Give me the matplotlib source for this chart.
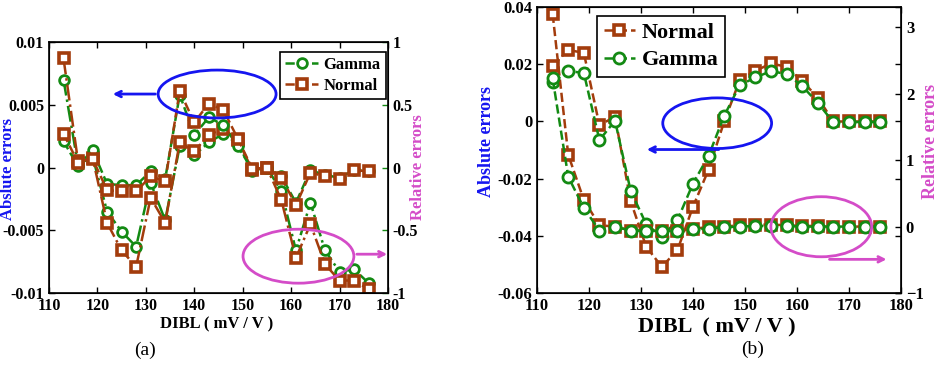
import matplotlib
matplotlib.use('Agg')
import matplotlib.pyplot as plt
from matplotlib.patches import Ellipse

plt.rcParams['font.family'] = ['Liberation Serif', 'DejaVu Serif']
plt.rcParams['font.weight'] = 'bold'

# DIBL values (mV/V)
dibl = [113, 116, 119, 122, 125, 128, 131, 134, 137, 140, 143,
        146, 149, 152, 155, 158, 161, 164, 167, 170, 173, 176]

# panel (a)
gamma_abs_a = [0.0021, 0.0001, 0.0014, -0.0013, -0.0014, -0.0014, -0.0003, -0.0009, 0.0058, 0.0026, 0.0040,
               0.0034, 0.0017, -0.0002, 0.0000, -0.0007, -0.0028, -0.0002, -0.0006, -0.0008, -0.0002, -0.0003]
gamma_rel_a = [0.70, 0.02, 0.09, -0.35, -0.51, -0.63, -0.12, -0.42, 0.17, 0.10, 0.20,
               0.27, 0.19, -0.03, 0.00, -0.19, -0.66, -0.28, -0.66, -0.83, -0.81, -0.92]
normal_abs_a = [0.0027, 0.0004, 0.0007, -0.0018, -0.0019, -0.0019, -0.0007, -0.0011, 0.0061, 0.0036, 0.0051,
                0.0046, 0.0023, -0.0001, 0.0000, -0.0008, -0.0030, -0.0004, -0.0007, -0.0009, -0.0002, -0.0003]
normal_rel_a = [0.87, 0.05, 0.08, -0.44, -0.66, -0.79, -0.24, -0.44, 0.20, 0.13, 0.26,
                0.31, 0.22, -0.02, 0.00, -0.26, -0.72, -0.45, -0.77, -0.90, -0.90, -0.97]

# panel (b)
normal_abs_b = [0.0195, 0.0250, 0.0240, -0.0013, 0.0017, -0.0278, -0.0438, -0.0508, -0.0450, -0.0298, -0.0168,
                0.0000, 0.0145, 0.0177, 0.0203, 0.0191, 0.0142, 0.0083, 0.0000, 0.0000, 0.0000, 0.0000]
normal_rel_b = [3.20, 1.08, 0.40, 0.02, 0.00, -0.06, -0.06, -0.06, -0.06, -0.03, -0.01,
                0.00, 0.02, 0.03, 0.03, 0.02, 0.01, 0.01, 0.00, 0.00, 0.00, 0.00]
gamma_abs_b = [0.0137, 0.0176, 0.0170, -0.0065, 0.0003, -0.0242, -0.0359, -0.0403, -0.0345, -0.0217, -0.0120,
               0.0020, 0.0127, 0.0154, 0.0176, 0.0166, 0.0124, 0.0065, -0.0003, -0.0003, -0.0001, -0.0002]
gamma_rel_b = [2.23, 0.75, 0.28, -0.06, 0.00, -0.06, -0.06, -0.07, -0.06, -0.04, -0.03,
               -0.01, 0.00, 0.01, 0.01, 0.01, 0.00, 0.00, 0.00, 0.00, 0.00, 0.00]

xticks = [110, 120, 130, 140, 150, 160, 170, 180]
yticks_a = [-0.01, -0.005, 0, 0.005, 0.01]
ylabels_a = ['-0.01', '-0.005', '0', '0.005', '0.01']
rticks_a = [-1, -0.5, 0, 0.5, 1]
rlabels_a = ['-1', '-0.5', '0', '0.5', '1']
yticks_b = [-0.06, -0.04, -0.02, 0, 0.02, 0.04]
ylabels_b = ['-0.06', '-0.04', '-0.02', '0', '0.02', '0.04']
rticks_b = [-1, 0, 1, 2, 3]

GREEN = '#138a13'
BROWN = '#a33c0c'
BLUE = '#1515f0'
MAGENTA = '#d44cc8'

fig = plt.figure(figsize=(9.4, 3.65), dpi=100)

gstyle = dict(color=GREEN, marker='o', mfc='white', mec=GREEN, mew=2, lw=1.8)
nstyle = dict(color=BROWN, marker='s', mfc='white', mec=BROWN, mew=2.6, lw=1.8)


def setup(ax, axr, fs):
    ax.set_xlim(110, 180)
    ax.set_xticks(xticks)
    ax.tick_params(direction='in', top=True, length=4, labelsize=fs, width=1)
    axr.tick_params(direction='in', length=4, labelsize=fs, width=1)
    for s in ax.spines.values():
        s.set_linewidth(1.2)


# ---------------- (a) ----------------
ax = fig.add_axes([0.0521, 0.197, 0.3606, 0.6877])
axr = ax.twinx()
ax.plot(dibl, gamma_abs_a, ls='--', ms=7, label='Gamma', **gstyle)
axr.plot(dibl, gamma_rel_a, ls='-.', ms=7, **gstyle)
ax.plot(dibl, normal_abs_a, ls='--', ms=6.5, label='Normal', **nstyle)
axr.plot(dibl, normal_rel_a, ls='-.', ms=6.5, **nstyle)
ax.set_zorder(axr.get_zorder() + 1)
ax.patch.set_visible(False)
ax.set_ylim(-0.01, 0.01)
ax.set_yticks(yticks_a)
ax.set_yticklabels(ylabels_a)
axr.set_ylim(-1, 1)
axr.set_yticks(rticks_a)
axr.set_yticklabels(rlabels_a)
setup(ax, axr, 11.5)
axr.tick_params(colors=GREEN, labelcolor='black')
ax.set_xlabel('DIBL ( mV / V )', fontsize=12, fontweight='bold')
ax.xaxis.set_label_coords(0.496, -0.094)
ax.set_ylabel('Abslute errors', fontsize=12, color=BLUE, fontweight='bold')
ax.yaxis.set_label_coords(-0.097, 0.494)
axr.set_ylabel('Relative errors', fontsize=12, color=MAGENTA, fontweight='bold')
axr.yaxis.set_label_coords(1.065, 0.5)
leg = ax.legend(loc='upper right', bbox_to_anchor=(0.993, 0.962), borderaxespad=0,
                fancybox=False, edgecolor='black', fontsize=12, handlelength=2.0,
                handletextpad=0.3, borderpad=0.3, labelspacing=0.3, framealpha=1)
leg.get_frame().set_linewidth(1.2)

# annotation ellipses / arrows
ax.add_patch(Ellipse((0.496, 0.793), 0.348, 0.191, transform=ax.transAxes,
                     fill=False, ec=BLUE, lw=2, clip_on=False, zorder=5))
ax.annotate('', xy=(0.180, 0.793), xytext=(0.322, 0.793), xycoords='axes fraction',
            arrowprops=dict(arrowstyle='->', color=BLUE, lw=2))
ax.add_patch(Ellipse((0.736, 0.147), 0.327, 0.215, transform=ax.transAxes,
                     fill=False, ec=MAGENTA, lw=2, clip_on=False, zorder=5))
ax.annotate('', xy=(1.006, 0.155), xytext=(0.900, 0.155), xycoords='axes fraction',
            arrowprops=dict(arrowstyle='->', color=MAGENTA, lw=2), annotation_clip=False)

# ---------------- (b) ----------------
bx = fig.add_axes([0.5713, 0.197, 0.3872, 0.7836])
bxr = bx.twinx()
bx.plot(dibl, normal_abs_b, ls='--', ms=7.5, label='Normal', **nstyle)
bxr.plot(dibl, normal_rel_b, ls='--', ms=7.5, **nstyle)
bx.plot(dibl, gamma_abs_b, ls='--', ms=8, label='Gamma', **gstyle)
bxr.plot(dibl, gamma_rel_b, ls='--', ms=8, **gstyle)
bx.set_ylim(-0.06, 0.04)
bx.set_yticks(yticks_b)
bx.set_yticklabels(ylabels_b)
bxr.set_ylim(-1, 3.3)
bxr.set_yticks(rticks_b)
setup(bx, bxr, 12)
bx.tick_params(right=True)
bx.set_xlabel('DIBL  ( mV / V )', fontsize=16, fontweight='bold')
bx.xaxis.set_label_coords(0.495, -0.084)
bx.set_ylabel('Abslute errors', fontsize=13, color=BLUE, fontweight='bold')
bx.yaxis.set_label_coords(-0.115, 0.531)
bxr.set_ylabel('Relative errors', fontsize=13, color=MAGENTA, fontweight='bold')
bxr.yaxis.set_label_coords(1.057, 0.53)
leg = bxr.legend(*bx.get_legend_handles_labels(), loc='upper left', bbox_to_anchor=(0.165, 0.969),
                 borderaxespad=0, fancybox=False, edgecolor='black', fontsize=16, handlelength=1.4,
                 handletextpad=0.3, borderpad=0.3, labelspacing=0.3, framealpha=1)
leg.get_frame().set_linewidth(1.2)

bx.add_patch(Ellipse((0.495, 0.594), 0.299, 0.177, transform=bx.transAxes,
                     fill=False, ec=BLUE, lw=2, clip_on=False, zorder=5))
bx.annotate('', xy=(0.294, 0.502), xytext=(0.507, 0.502), xycoords='axes fraction',
            arrowprops=dict(arrowstyle='->', color=BLUE, lw=2))
bxr.add_patch(Ellipse((0.781, 0.232), 0.277, 0.210, transform=bxr.transAxes,
                      fill=False, ec=MAGENTA, lw=2, clip_on=False, zorder=5))
bxr.annotate('', xy=(0.968, 0.118), xytext=(0.796, 0.118), xycoords='axes fraction',
             arrowprops=dict(arrowstyle='->', color=MAGENTA, lw=2))

fig.text(0.154, 0.041, '(a)', fontsize=14, fontweight='normal', ha='center', va='center')
fig.text(0.801, 0.044, '(b)', fontsize=14, fontweight='normal', ha='center', va='center')

fig.savefig('out.png', dpi=100)
